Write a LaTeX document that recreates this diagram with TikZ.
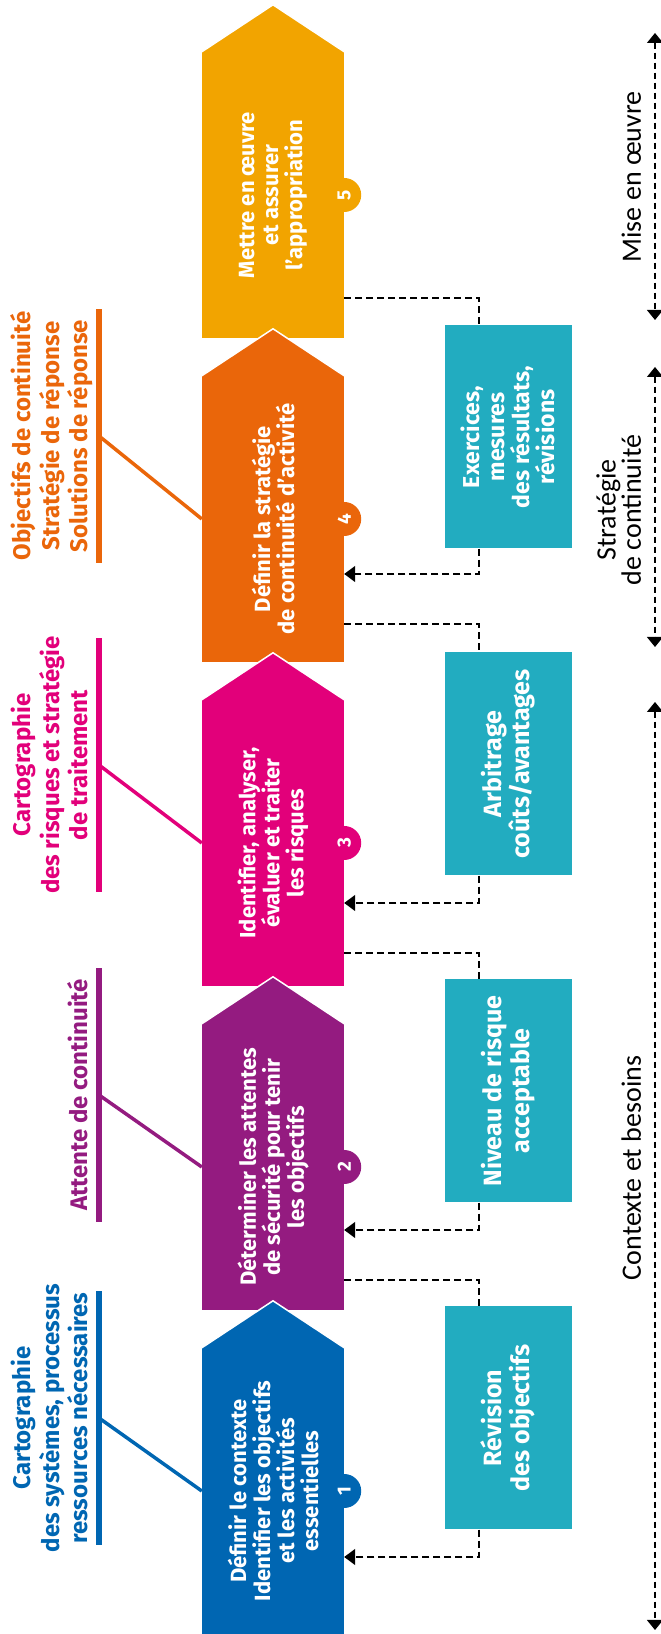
\documentclass[tikz,border=0pt]{standalone}
\usepackage{fontspec}
\setmainfont{Fira Sans}
\newfontfamily\phasefont{Carlito}
\usetikzlibrary{positioning,calc,arrows.meta}

\definecolor{stepblue}{RGB}{0,102,178}
\definecolor{steppurple}{RGB}{148,27,128}
\definecolor{steppink}{RGB}{226,0,122}
\definecolor{steporange}{RGB}{234,102,10}
\definecolor{stepyellow}{RGB}{242,164,0}
\definecolor{stepteal}{RGB}{34,172,192}

\begin{document}
\begin{tikzpicture}[x=1pt,y=1pt,
    stepbody/.style={rotate=90,fill=#1,minimum width=286pt,minimum height=142pt,inner sep=0pt,text=white,align=center,font=\bfseries\fontsize{22}{24}\selectfont},
    steptip/.style={fill=#1,draw=white,line width=1.5pt},
    stepnum/.style={circle,fill=#1,minimum size=34pt,inner sep=0pt,rotate=90,text=white,font=\bfseries\fontsize{19}{19}\selectfont},
    resultbox/.style={rotate=90,fill=stepteal,minimum width=223pt,minimum height=127pt,inner sep=0pt,text=white,align=center,font=\bfseries\fontsize{25}{28}\selectfont},
    steptag/.style={rotate=90,anchor=south,inner sep=0pt,text depth=0pt,text=#1,align=center,font=\bfseries\fontsize{24}{28.5}\selectfont},
    tagbar/.style={#1,line width=6pt},
    taglead/.style={#1,line width=3.5pt},
    backline/.style={line width=1.3pt,dash pattern=on 7pt off 4pt},
    backarrow/.style={backline,-{Triangle[length=11pt,width=16pt]}},
    phaseline/.style={line width=1.2pt,dash pattern=on 6pt off 4pt,{Triangle[length=10pt,width=16pt]}-{Triangle[length=10pt,width=16pt]}},
    phaselabel/.style={rotate=90,anchor=south,inner sep=0pt,text depth=0pt,align=center,font=\phasefont\fontsize{28}{24}\selectfont}
  ]
  \useasboundingbox (0,0) rectangle (661,1634);

  % steps, last one first so each tip lies on the next step
  \node[stepbody=stepyellow] (s5) at (273,1439) {Mettre en œuvre\\et assurer\\l'appropriation};
  \filldraw[steptip=stepyellow] (s5.north east) -- ($(s5.east)+(0,47)$) -- (s5.south east);
  \node[stepbody=steporange] (s4) at (273,1115) {Définir la stratégie\\de continuité d'activité};
  \filldraw[steptip=steporange] (s4.north east) -- ($(s4.east)+(0,47)$) -- (s4.south east);
  \node[stepbody=steppink] (s3) at (273,791) {Identifier, analyser,\\évaluer et traiter\\les risques};
  \filldraw[steptip=steppink] (s3.north east) -- ($(s3.east)+(0,47)$) -- (s3.south east);
  \node[stepbody=steppurple] (s2) at (273,467) {Déterminer les attentes\\de sécurité pour tenir\\les objectifs};
  \filldraw[steptip=steppurple] (s2.north east) -- ($(s2.east)+(0,47)$) -- (s2.south east);
  \node[stepbody=stepblue] (s1) at (273,143) {Définir le contexte\\Identifier les objectifs\\et les activités\\essentielles};
  \filldraw[steptip=stepblue] (s1.north east) -- ($(s1.east)+(0,47)$) -- (s1.south east);

  \node[stepnum=stepblue] (n1) at (s1.south) {1};
  \node[stepnum=steppurple] (n2) at (s2.south) {2};
  \node[stepnum=steppink] (n3) at (s3.south) {3};
  \node[stepnum=steporange] (n4) at (s4.south) {4};
  \node[stepnum=stepyellow] (n5) at (s5.south) {5};

  % results
  \node[resultbox] (r1) at (508,216) {Révision\\des objectifs};
  \node[resultbox] (r2) at (508,543) {Niveau de risque\\acceptable};
  \node[resultbox] (r3) at (508,870) {Arbitrage\\coûts/avantages};
  \node[resultbox,font=\bfseries\fontsize{23}{25}\selectfont] (r4) at (508,1197) {Exercices,\\mesures\\des résultats,\\révisions};

  % feedback loops
  \coordinate (t1) at (479,354);
  \coordinate (u1) at (479,77);
  \draw[backline] (t1 -| s2.south) -- (t1) -- (t1 |- r1.east);
  \draw[backarrow] (u1 |- r1.west) -- (u1) -- (u1 -| s1.south);
  \coordinate (t2) at (479,681);
  \coordinate (u2) at (479,404);
  \draw[backline] (t2 -| s3.south) -- (t2) -- (t2 |- r2.east);
  \draw[backarrow] (u2 |- r2.west) -- (u2) -- (u2 -| s2.south);
  \coordinate (t3) at (479,1010);
  \coordinate (u3) at (479,731);
  \draw[backline] (t3 -| s4.south) -- (t3) -- (t3 |- r3.east);
  \draw[backarrow] (u3 |- r3.west) -- (u3) -- (u3 -| s3.south);
  \coordinate (t4) at (479,1336);
  \coordinate (u4) at (479,1060);
  \draw[backline] (t4 -| s5.south) -- (t4) -- (t4 |- r4.east);
  \draw[backarrow] (u4 |- r4.west) -- (u4) -- (u4 -| s4.south);

  % deliverables on the left
  \coordinate (k1) at (99,216);
  \node[steptag=stepblue] (l1) at (88,216) {Cartographie\\des systèmes, processus\\ressources nécessaires};
  \draw[tagbar=stepblue] ($(k1)+(0,-127)$) -- ($(k1)+(0,127)$);
  \draw[taglead=stepblue] (k1) -- (s1.north);
  \coordinate (k2) at (99,539);
  \node[steptag=steppurple] (l2) at (88,539) {Attente de continuité};
  \draw[tagbar=steppurple] ($(k2)+(0,-127)$) -- ($(k2)+(0,127)$);
  \draw[taglead=steppurple] (k2) -- (s2.north);
  \coordinate (k3) at (99,869);
  \node[steptag=steppink] (l3) at (88,869) {Cartographie\\des risques et stratégie\\de traitement};
  \draw[tagbar=steppink] ($(k3)+(0,-127)$) -- ($(k3)+(0,127)$);
  \draw[taglead=steppink] (k3) -- (s3.north);
  \coordinate (k4) at (99,1198);
  \node[steptag=steporange] (l4) at (88,1198) {Objectifs de continuité\\Stratégie de réponse\\Solutions de réponse};
  \draw[tagbar=steporange] ($(k4)+(0,-127)$) -- ($(k4)+(0,127)$);
  \draw[taglead=steporange] (k4) -- (s4.north);

  % phases on the right
  \coordinate (p1) at (655,1601);
  \coordinate (p2) at (655,1314);
  \coordinate (p3) at (655,1267);
  \coordinate (p4) at (655,987);
  \coordinate (p5) at (655,932);
  \coordinate (p6) at (655,4);
  \draw[phaseline] (p1) -- (p2);
  \draw[phaseline] (p3) -- (p4);
  \draw[phaseline] (p5) -- (p6);
  \node[phaselabel] (h1) at (641,1457) {Mise en œuvre};
  \node[phaselabel] (h2) at (641,1124) {Stratégie\\de continuité};
  \node[phaselabel] (h3) at (641,466) {Contexte et besoins};
\end{tikzpicture}
\end{document}
